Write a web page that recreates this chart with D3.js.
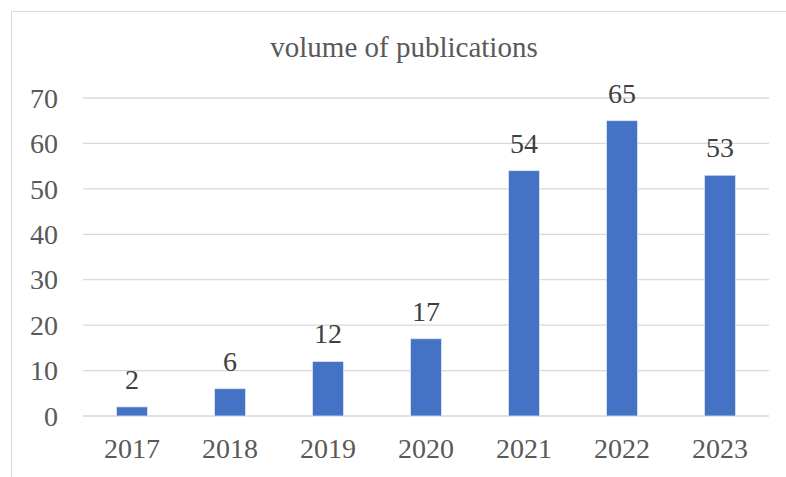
<!DOCTYPE html>
<html>
<head>
<meta charset="utf-8">
<script src="https://cdn.jsdelivr.net/npm/d3@7/dist/d3.min.js"></script>
<style>
  html, body { margin: 0; padding: 0; background: #fff; }
  svg { display: block; }
  text { font-family: "Liberation Serif", "Times New Roman", serif; }
</style>
</head>
<body>
<svg id="chart" width="786" height="477"></svg>
<script>
const categories = ["2017", "2018", "2019", "2020", "2021", "2022", "2023"];
const values = [2, 6, 12, 17, 54, 65, 53];
const yTicks = [0, 10, 20, 30, 40, 50, 60, 70];
const title = "volume of publications";

const svg = d3.select("#chart");
const W = 786, H = 477;
const plot = { left: 83, right: 769, top: 98, bottom: 416 };

// chart border (cropped on right/bottom)
svg.append("rect")
  .attr("x", 11.5).attr("y", 11.5)
  .attr("width", W + 20).attr("height", H + 20)
  .attr("fill", "#fff").attr("stroke", "#d9d9d9").attr("stroke-width", 1);

const x = d3.scaleBand().domain(categories).range([plot.left, plot.right]).paddingInner(0.684).paddingOuter(0.342);
const y = d3.scaleLinear().domain([0, 70]).range([plot.bottom, plot.top]);

// gridlines
svg.append("g").selectAll("line").data(yTicks).join("line")
  .attr("x1", plot.left).attr("x2", plot.right)
  .attr("y1", d => y(d)).attr("y2", d => y(d))
  .attr("stroke", "#d9d9d9").attr("stroke-width", 1.3);

// y axis labels
const yAxis = d3.axisLeft(y).tickValues(yTicks).tickSize(0).tickPadding(0);
const gy = svg.append("g").attr("transform", `translate(58,0)`).call(yAxis);
gy.select(".domain").remove();
gy.selectAll("text")
  .attr("font-family", "Liberation Serif, Times New Roman, serif")
  .attr("font-size", 28).attr("fill", "#595959").attr("dy", "0.33em");

// x axis labels
const xAxis = d3.axisBottom(x).tickSize(0).tickPadding(0);
const gx = svg.append("g").attr("transform", `translate(0,${plot.bottom})`).call(xAxis);
gx.select(".domain").remove();
gx.selectAll("text")
  .attr("font-family", "Liberation Serif, Times New Roman, serif")
  .attr("font-size", 28).attr("fill", "#595959").attr("dy", null).attr("y", 42);

// bars
svg.append("g").selectAll("rect").data(values).join("rect")
  .attr("x", (d, i) => x(categories[i]))
  .attr("width", x.bandwidth())
  .attr("y", d => y(d))
  .attr("height", d => y(0) - y(d))
  .attr("fill", "#4472c4")
  .attr("stroke", "#dfe8f7").attr("stroke-width", 0.75);

// data labels
svg.append("g").selectAll("text").data(values).join("text")
  .attr("x", (d, i) => x(categories[i]) + x.bandwidth() / 2)
  .attr("y", d => y(d) - 18)
  .attr("text-anchor", "middle")
  .attr("font-size", 28).attr("fill", "#404040")
  .text(d => d);

// title
svg.append("text")
  .attr("x", 404).attr("y", 57)
  .attr("text-anchor", "middle")
  .attr("font-size", 29).attr("fill", "#595959")
  .text(title);
</script>
</body>
</html>
